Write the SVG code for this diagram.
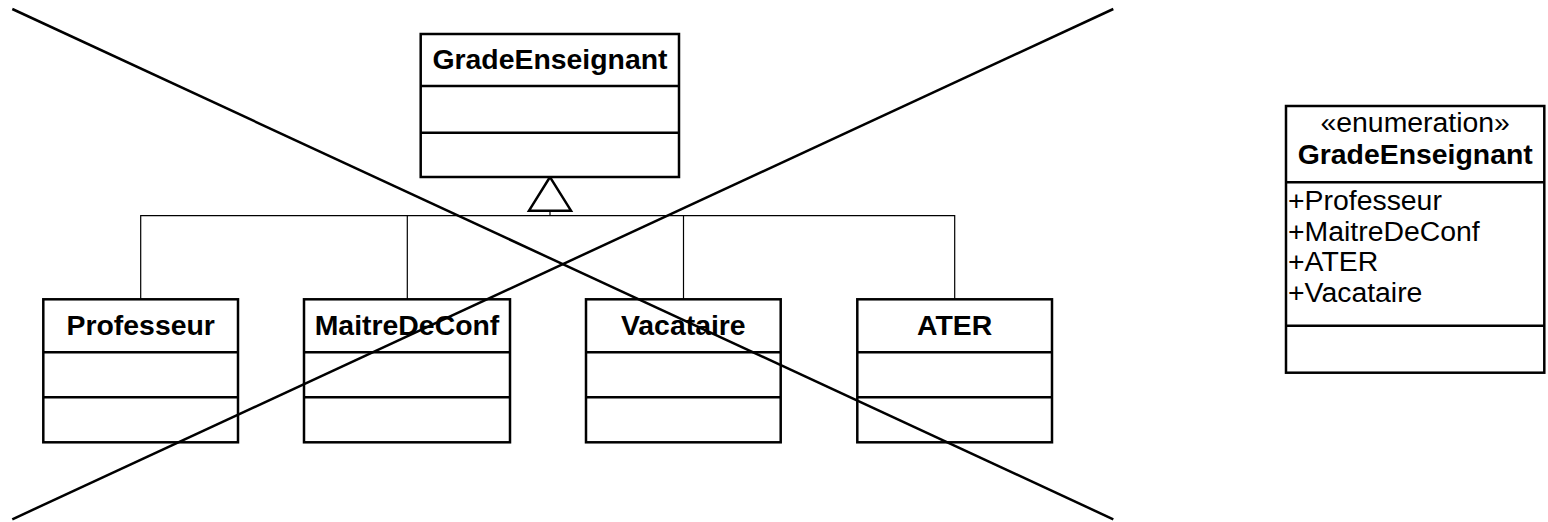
<svg xmlns="http://www.w3.org/2000/svg" width="1548" height="522" viewBox="0 0 1548 522">
<style>
.box{fill:#fff;stroke:#000;stroke-width:2.5}
.div{stroke:#000;stroke-width:2.5}
.name{font-family:"Liberation Sans",Arial,sans-serif;font-size:28.4px;font-weight:bold;text-anchor:middle;fill:#000}
.reg{font-family:"Liberation Sans",Arial,sans-serif;font-size:28.4px;fill:#000}
.conn{fill:none;stroke:#000;stroke-width:1.2}
.cross{stroke:#000;stroke-width:2.5}
</style>
<rect width="1548" height="522" fill="#fff"/>
<g id="connectors">
<polyline class="conn" points="140.7,299 140.7,215.7 954.7,215.7 954.7,299"/>
<line class="conn" x1="407.3" y1="215.7" x2="407.3" y2="299"/>
<line class="conn" x1="683.5" y1="215.7" x2="683.5" y2="299"/>
<line class="conn" x1="550" y1="210.7" x2="550" y2="215.7"/>
<polygon points="550,177 529,210.7 571,210.7" fill="#fff" stroke="#000" stroke-width="2.5"/>
</g>
<g id="GradeEnseignant">
<rect class="box" x="420.7" y="34" width="258.3" height="143"/>
<line class="div" x1="420.7" y1="86" x2="679" y2="86"/>
<line class="div" x1="420.7" y1="132.7" x2="679" y2="132.7"/>
<text class="name" x="550" y="69">GradeEnseignant</text>
</g>
<g id="Professeur">
<rect class="box" x="43.3" y="299.3" width="194.7" height="143"/>
<line class="div" x1="43.3" y1="352.3" x2="238" y2="352.3"/>
<line class="div" x1="43.3" y1="397.3" x2="238" y2="397.3"/>
<text class="name" x="140.7" y="335">Professeur</text>
</g>
<g id="MaitreDeConf">
<rect class="box" x="304" y="299.3" width="206" height="143"/>
<line class="div" x1="304" y1="352.3" x2="510" y2="352.3"/>
<line class="div" x1="304" y1="397.3" x2="510" y2="397.3"/>
<text class="name" x="407" y="335">MaitreDeConf</text>
</g>
<g id="Vacataire">
<rect class="box" x="586" y="299.3" width="194.7" height="143"/>
<line class="div" x1="586" y1="352.3" x2="780.7" y2="352.3"/>
<line class="div" x1="586" y1="397.3" x2="780.7" y2="397.3"/>
<text class="name" x="683.3" y="335">Vacataire</text>
</g>
<g id="ATER">
<rect class="box" x="857.3" y="299.3" width="194.7" height="143"/>
<line class="div" x1="857.3" y1="352.3" x2="1052" y2="352.3"/>
<line class="div" x1="857.3" y1="397.3" x2="1052" y2="397.3"/>
<text class="name" x="954.7" y="335">ATER</text>
</g>
<g id="EnumGradeEnseignant">
<rect class="box" x="1286" y="106" width="258.3" height="266.7"/>
<line class="div" x1="1286" y1="182.3" x2="1544.3" y2="182.3"/>
<line class="div" x1="1286" y1="325.7" x2="1544.3" y2="325.7"/>
<text class="reg" x="1415.2" y="131.7" text-anchor="middle">«enumeration»</text>
<text class="name" x="1415.2" y="164.3">GradeEnseignant</text>
<text class="reg" x="1288" y="210">+Professeur</text>
<text class="reg" x="1288" y="240.7">+MaitreDeConf</text>
<text class="reg" x="1288" y="271.4">+ATER</text>
<text class="reg" x="1288" y="302.1">+Vacataire</text>
</g>
<g id="cross">
<line class="cross" x1="12.3" y1="9" x2="1113.3" y2="519.3"/>
<line class="cross" x1="1113.3" y1="9" x2="12.3" y2="519.3"/>
</g>
</svg>
